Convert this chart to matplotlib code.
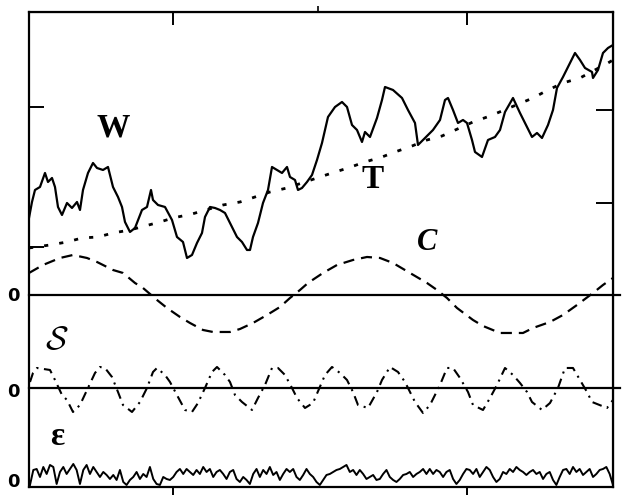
import numpy as np
import matplotlib
matplotlib.use("Agg")
import matplotlib.pyplot as plt

plt.rcParams['lines.scale_dashes'] = False
plt.rcParams['mathtext.fontset'] = 'cm'

# time index (frame runs 0..584), values in the same vertical units
w_t = [0, 3, 6, 11, 16, 19, 23, 26, 29, 33, 38, 43, 48, 51, 54, 59, 64, 68, 74, 79,
       84, 89, 93, 96, 101, 106, 113, 118, 122, 124, 129, 136, 143, 148, 154, 158, 163, 168, 173, 176,
       181, 186, 191, 196, 201, 208, 213, 218, 221, 224, 229, 234, 239, 243, 248, 253, 258, 261, 266, 269,
       273, 278, 283, 288, 293, 299, 306, 313, 318, 323, 328, 333, 336, 341, 348, 353, 356, 364, 373, 379,
       386, 389, 396, 404, 411, 416, 419, 424, 429, 434, 438, 443, 446, 453, 459, 466, 471, 476, 484, 491,
       498, 503, 508, 513, 519, 524, 528, 534, 541, 546, 551, 556, 563, 564, 569, 574, 579, 584]
w_val = [77, 93, 105, 108, 122, 113, 117, 108, 88, 80, 92, 87, 93, 85, 105, 122, 132, 127, 125, 128,
         108, 98, 88, 73, 63, 67, 85, 88, 105, 95, 90, 88, 75, 58, 53, 37, 40, 52, 62, 78,
         88, 87, 85, 82, 72, 58, 53, 45, 45, 58, 72, 92, 105, 128, 125, 122, 128, 118, 115, 105,
         107, 113, 120, 135, 152, 178, 188, 193, 188, 170, 165, 153, 163, 158, 177, 195, 208, 205, 197, 185,
         172, 150, 157, 165, 175, 195, 197, 185, 172, 175, 172, 155, 143, 138, 155, 158, 165, 183, 197, 182,
         168, 158, 162, 157, 170, 185, 207, 218, 232, 242, 235, 227, 223, 217, 225, 242, 247, 250]

trend_t = [0, 21, 38, 53, 69, 84, 101, 116, 131, 144, 163, 194, 211, 226, 241, 258, 288, 303, 319, 336,
           353, 366, 383, 398, 413, 444, 461, 504, 519, 534, 551, 579, 584]
trend_val = [47, 50, 53, 57, 58, 62, 65, 69, 73, 77, 81, 90, 93, 98, 103, 107, 117, 122, 127, 133,
             138, 143, 149, 155, 159, 173, 179, 197, 205, 212, 217, 232, 235]

cyc_t = [0, 14, 31, 44, 58, 68, 84, 94, 106, 114, 128, 138, 151, 161, 174, 184, 201, 211, 224, 238,
         251, 261, 271, 279, 294, 308, 324, 338, 351, 364, 381, 398, 408, 418, 428, 444, 454, 471, 481, 494,
         504, 521, 534, 548, 564, 574, 584]
cyc_val = [22, 30, 37, 40, 37, 33, 25, 22, 12, 7, -5, -13, -22, -28, -35, -37, -37, -34, -28, -20,
           -12, -3, 5, 12, 22, 30, 35, 38, 37, 32, 22, 12, 5, -3, -13, -25, -31, -38, -38, -38,
           -33, -27, -20, -10, 2, 10, 17]

seas_t = [1, 4, 8, 21, 26, 33, 38, 44, 51, 66, 71, 76, 83, 89, 94, 103, 111, 118, 124, 128,
          136, 141, 149, 156, 163, 169, 176, 183, 188, 196, 201, 206, 213, 223, 229, 236, 243, 249, 256, 263,
          268, 276, 284, 296, 303, 311, 318, 324, 329, 339, 348, 353, 361, 369, 376, 381, 386, 394, 401, 411,
          418, 424, 431, 439, 444, 454, 461, 468, 476, 484, 491, 498, 503, 513, 521, 529, 536, 544, 551, 558,
          563, 578, 584]
seas_val = [6, 15, 20, 18, 8, -7, -12, -24, -17, 15, 21, 20, 11, -4, -17, -24, -14, 0, 16, 20,
            13, 6, -9, -22, -24, -15, 0, 16, 21, 13, 6, -7, -14, -22, -10, 3, 20, 20, 13, 0,
            -10, -20, -15, 13, 21, 15, 8, -4, -17, -20, -4, 8, 21, 16, 6, -4, -14, -25, -17, 3,
            20, 20, 10, -4, -17, -22, -10, 3, 20, 13, 5, -4, -14, -22, -15, 0, 20, 20, 8, -4,
            -14, -20, -12]

noise_val = [2, 17, 18, 10, 20, 13, 22, 20, 3, 15, 20, 13, 18, 23, 17, 3, 17, 22, 13, 20,
             15, 10, 15, 12, 8, 12, 7, 17, 5, 2, 7, 10, 15, 8, 13, 10, 20, 8, 3, 2,
             10, 8, 7, 10, 15, 18, 13, 18, 15, 12, 17, 13, 20, 15, 18, 10, 15, 17, 13, 8,
             15, 17, 8, 5, 10, 7, 3, 13, 18, 10, 17, 13, 20, 12, 15, 7, 13, 18, 15, 18,
             10, 7, 12, 18, 13, 10, 5,
             2, 7, 12, 13, 15, 17, 18, 20, 22, 15, 17, 12, 17, 13, 8, 10, 12, 7, 8, 13,
             17, 10, 7, 5, 8, 12, 13, 15, 10, 13, 15, 18, 13, 18, 13, 17, 15, 10, 15, 17,
             8, 3, 7, 13, 18, 17, 13, 18, 10, 15, 20, 17, 10, 5, 8, 15, 13, 18, 15, 20,
             17, 15, 12, 15, 17, 13, 15, 8, 13, 15, 7, 2, 10, 17, 18, 13, 20, 15, 18, 12,
             15, 18, 10, 13, 17, 18, 20, 13, 2]
noise_t = np.linspace(1, 584, len(noise_val))

# vertical offsets of the lower panels
s_base = -93
e_base = -192
zero_label_y = [-1, -97, -187]

fig = plt.figure(figsize=(6.33, 4.95), dpi=100)
ax = fig.add_axes([0.0458, 0.0162, 0.9226, 0.9596])

ax.plot(w_t, w_val, color='black', lw=1.6)
ax.plot(trend_t, trend_val, color='black', lw=2, linestyle=(0, (3, 8)))
ax.plot(cyc_t, cyc_val, color='black', lw=1.6, linestyle=(0, (8, 5)))
ax.plot(seas_t, np.array(seas_val) + s_base, color='black', lw=1.5,
        linestyle=(0, (7, 4, 1.5, 4)))
ax.plot(noise_t, np.array(noise_val) + e_base, color='black', lw=1.4)

# zero lines of C and S panels run a bit past the frame
ax.plot([0, 591], [0, 0], color='black', lw=1.6, clip_on=False)
ax.plot([0, 591], [s_base, s_base], color='black', lw=1.6, clip_on=False)

ax.set_xlim(0, 584)
ax.set_ylim(-192, 283)

for sp in ax.spines.values():
    sp.set_linewidth(1.6)

ax.set_xticks([144, 438])
ax.set_xticklabels([])
ax.tick_params(axis='x', direction='out', length=6, width=1.4)

ax.set_yticks([48, 188])
ax.set_yticklabels([])
ax.tick_params(axis='y', direction='in', length=11, width=1.4)

for y in zero_label_y:
    ax.text(-16, y, '0', fontsize=13, fontweight='bold',
            family=['Liberation Sans Narrow', 'DejaVu Sans'],
            ha='center', va='center', clip_on=False)

top = ax.secondary_xaxis('top')
top.set_xticks([144, 438])
top.set_xticklabels([])
top.set_xticks([289], minor=True)
top.tick_params(which='major', direction='in', length=9, width=1.4)
top.tick_params(which='minor', direction='out', length=4, width=1.2)

right = ax.secondary_yaxis('right')
right.set_yticks([92, 185])
right.set_yticklabels([])
right.tick_params(direction='in', length=12, width=1.4)

ax.text(84, 167, 'W', fontsize=24, fontweight='bold', family='Liberation Serif',
        ha='center', va='center')
ax.text(344, 115, 'T', fontsize=24, fontweight='bold', family='Liberation Serif',
        ha='center', va='center')
ax.text(398, 52, 'C', fontsize=22, fontweight='bold', fontstyle='italic',
        family='Liberation Serif', ha='center', va='center')
ax.text(28, s_base + 48, r'$\mathcal{S}$', fontsize=24, ha='center', va='center')
ax.text(28, e_base + 50, 'ε', fontsize=24, fontweight='bold',
        family='Liberation Serif', ha='center', va='center')

fig.savefig('out.png', dpi=100)
